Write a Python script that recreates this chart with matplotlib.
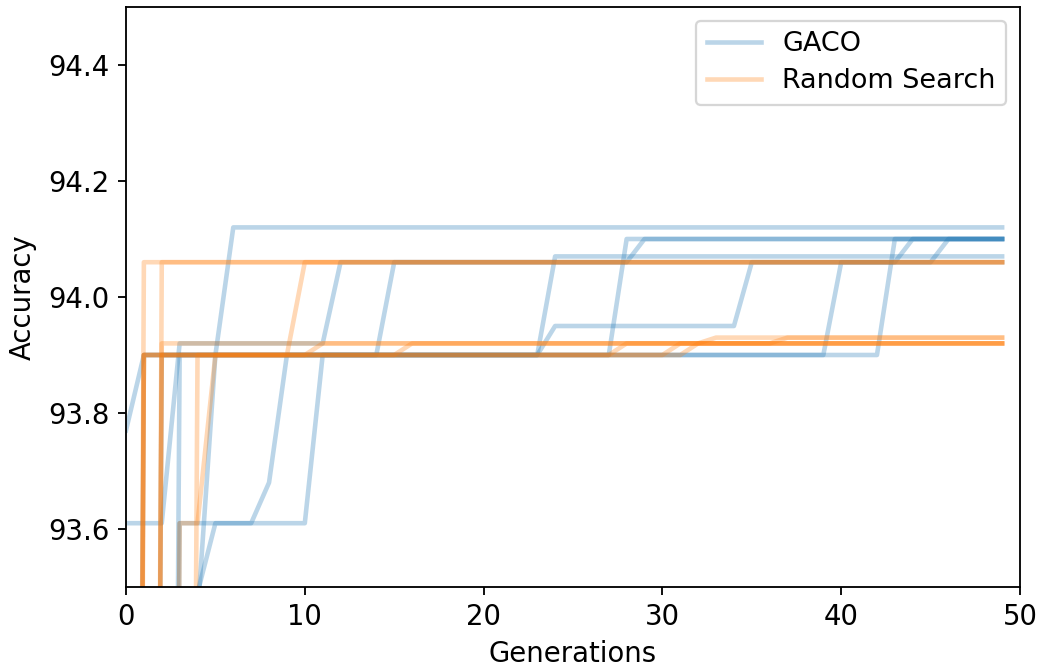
import numpy as np
import matplotlib
matplotlib.use("Agg")
import matplotlib.pyplot as plt

# Best accuracy per generation for each run, stored as (generation, accuracy)
# at the generations where the value changes; it holds until the next entry.
n_generations = 50

gaco_runs = [
    [(0, 93.77), (1, 93.90), (14, 93.90), (15, 94.06), (43, 94.06), (44, 94.10)],
    [(0, 93.61), (2, 93.61), (3, 93.92), (11, 93.92), (12, 94.06), (28, 94.06), (29, 94.10)],
    [(0, 88.50), (3, 90.00), (4, 93.45), (5, 93.90), (6, 94.12)],
    [(0, 88.00), (3, 90.00), (4, 93.49), (5, 93.61), (7, 93.61), (8, 93.68), (9, 93.90),
     (23, 93.90), (24, 94.07)],
    [(0, 89.00), (1, 93.90), (23, 93.90), (24, 93.95), (34, 93.95), (35, 94.06),
     (45, 94.06), (46, 94.10)],
    [(0, 88.50), (1, 89.00), (2, 93.90), (27, 93.90), (28, 94.10)],
    [(0, 89.00), (2, 89.50), (3, 93.90), (39, 93.90), (40, 94.06)],
    [(0, 88.00), (2, 89.00), (3, 93.61), (10, 93.61), (11, 93.90), (42, 93.90), (43, 94.10)],
]

random_runs = [
    [(0, 88.00), (1, 94.06)],
    [(0, 87.50), (1, 88.00), (2, 94.06)],
    [(0, 88.50), (1, 93.90), (15, 93.90), (16, 93.92)],
    [(0, 87.00), (1, 93.90), (30, 93.90), (31, 93.92), (32, 93.92), (33, 93.93)],
    [(0, 88.00), (1, 89.00), (2, 93.92)],
    [(0, 87.80), (1, 88.80), (2, 93.90), (27, 93.90), (28, 93.92)],
    [(0, 88.00), (2, 89.00), (3, 93.61), (4, 93.61), (5, 93.90), (10, 93.90), (11, 93.92)],
    [(0, 88.00), (3, 89.00), (4, 93.90), (9, 93.90), (10, 94.06)],
    [(0, 88.20), (1, 93.90), (31, 93.90), (32, 93.92), (36, 93.92), (37, 93.93)],
]

series_labels = ["GACO", "Random Search"]
x_ticks = [0, 10, 20, 30, 40, 50]
y_ticks = [93.6, 93.8, 94.0, 94.2, 94.4]


def expand(run, n):
    """Turn change points into one value per generation."""
    values = np.empty(n)
    points = sorted(run)
    for i, (gen, acc) in enumerate(points):
        end = points[i + 1][0] if i + 1 < len(points) else n
        values[gen:end] = acc
    return values


plt.rcParams["font.size"] = 12

dpi = 165
fig = plt.figure(figsize=(1041 / dpi, 670 / dpi), dpi=dpi)
ax = fig.add_axes([126 / 1041, 1 - 587 / 670, (1020 - 126) / 1041, (587 - 7) / 670])

generations = np.arange(n_generations)
colors = ["#1f77b4", "#ff7f0e"]
for runs, color, label in zip([gaco_runs, random_runs], colors, series_labels):
    for i, run in enumerate(runs):
        ax.plot(generations, expand(run, n_generations), color=color, alpha=0.3,
                linewidth=2.0, label=label if i == 0 else None)

ax.set_xlim(0, 50)
ax.set_ylim(93.5, 94.5)
ax.set_xticks(x_ticks)
ax.set_yticks(y_ticks)
ax.set_xlabel("Generations", labelpad=4)
ax.set_ylabel("Accuracy", labelpad=5)
ax.legend(loc="upper right", fontsize=11.8, labelspacing=0.4)

fig.savefig("out.png", dpi=dpi)
